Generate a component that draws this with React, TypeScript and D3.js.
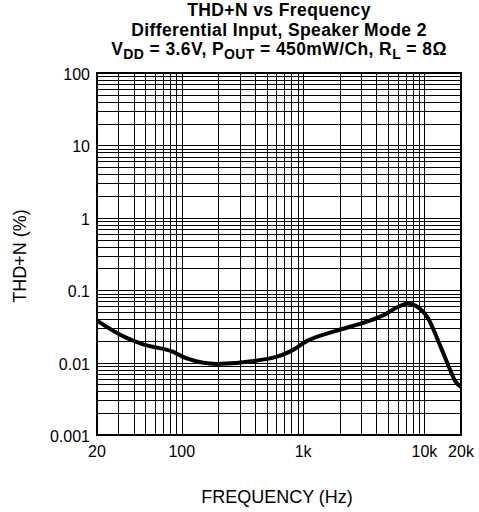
import React from "react";
import * as d3 from "d3";

const freqs = [20, 33, 48, 85, 110, 195, 393, 792, 1070, 1900, 3390, 4700, 6200, 7300, 8600, 10700, 13000, 15600, 18000, 20000];
const thdn = [0.038, 0.023, 0.0178, 0.0141, 0.0114, 0.0096, 0.0105, 0.0144, 0.0198, 0.0277, 0.037, 0.046, 0.06, 0.0655, 0.06, 0.041, 0.0198, 0.0094, 0.0055, 0.0046];
const xTicks = [20, 100, 1000, 10000, 20000];
const xTickLabels = ["20", "100", "1k", "10k", "20k"];
const yTicks = [0.001, 0.01, 0.1, 1, 10, 100];
const yTickLabels = ["0.001", "0.01", "0.1", "1", "10", "100"];

export default function App() {
  const W = 479, H = 512;
  const L = 97, R = 461, T = 73, B = 435;
  const x = d3.scaleLog().domain([20, 20000]).range([L, R]);
  const y = d3.scaleLog().domain([0.001, 100]).range([B, T]);

  const xGrid: number[] = [];
  for (const dec of [10, 100, 1000, 10000]) {
    for (let m = 1; m <= 9; m++) {
      const v = dec * m;
      if (v > 20 && v < 20000) xGrid.push(v);
    }
  }
  const yGrid: number[] = [];
  for (const dec of [0.001, 0.01, 0.1, 1, 10]) {
    for (let m = 1; m <= 9; m++) {
      const v = dec * m;
      if (v > 0.001 * 1.0001 && v < 100) yGrid.push(v);
    }
  }
  const line = d3.line<number>()
    .x((_, i) => x(freqs[i]))
    .y((d) => y(d))
    .curve(d3.curveMonotoneX);

  const font = "Liberation Sans, Arial, sans-serif";
  const cx = (L + R) / 2;
  const px = (v: number) => Math.round(v) + 0.5;
  return (
    <svg width={W} height={H} style={{ position: "absolute", left: 0, top: 0 }} fontFamily={font}>
      <rect width={W} height={H} fill="#fff" />
      <g fontWeight="bold" fontSize={17.5} letterSpacing={0.4} textAnchor="middle" fill="#000">
        <text x={cx} y={16}>THD+N vs Frequency</text>
        <text x={cx} y={35.6}>Differential Input, Speaker Mode 2</text>
        <text x={cx} y={55.2}>
          V<tspan dy={4} fontSize={14}>DD</tspan><tspan dy={-4}> = 3.6V, P</tspan>
          <tspan dy={4} fontSize={14}>OUT</tspan><tspan dy={-4}> = 450mW/Ch, R</tspan>
          <tspan dy={4} fontSize={14}>L</tspan><tspan dy={-4}> = 8Ω</tspan>
        </text>
      </g>
      <g stroke="#000" strokeWidth={1} shapeRendering="crispEdges">
        {xGrid.map((v) => (
          <line key={"x" + v} x1={px(x(v))} x2={px(x(v))} y1={T} y2={B} />
        ))}
        {yGrid.map((v) => (
          <line key={"y" + v} x1={L} x2={R} y1={px(y(v))} y2={px(y(v))} />
        ))}
      </g>
      <rect x={L} y={T} width={R - L} height={B - T} fill="none" stroke="#000" strokeWidth={2} />
      <path d={line(thdn) || ""} fill="none" stroke="#000" strokeWidth={4} strokeLinejoin="round" />
      <g fontSize={16} fill="#000">
        {yTicks.map((v, i) => (
          <text key={v} x={L - 7} y={y(v) + 7} textAnchor="end">{yTickLabels[i]}</text>
        ))}
        {xTicks.map((v, i) => (
          <text key={v} x={x(v)} y={B + 22} textAnchor="middle">{xTickLabels[i]}</text>
        ))}
      </g>
      <text x={277} y={503} fontSize={18} textAnchor="middle">FREQUENCY (Hz)</text>
      <text transform={`translate(26,256) rotate(-90)`} fontSize={18} textAnchor="middle">THD+N (%)</text>
    </svg>
  );
}
